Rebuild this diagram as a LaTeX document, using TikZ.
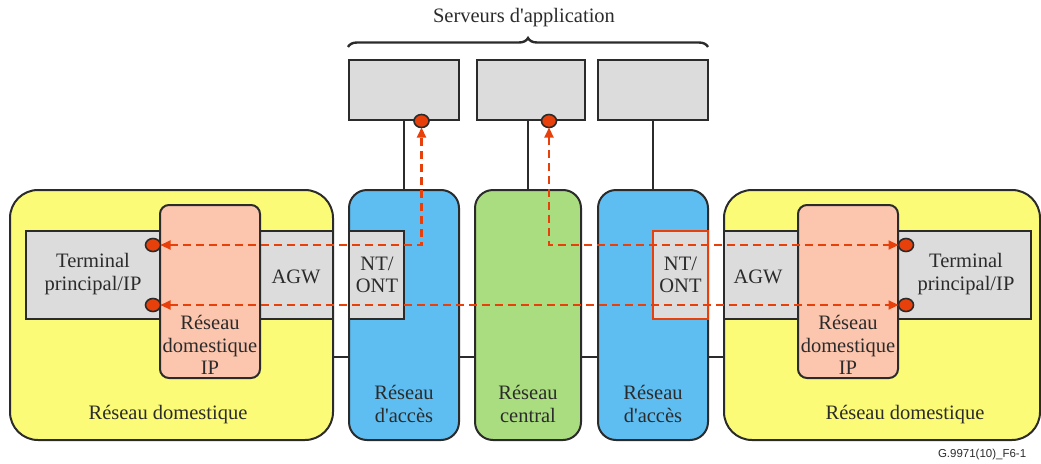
\documentclass[tikz,border=0pt]{standalone}
\usepackage{fontspec}
\setmainfont{Liberation Serif}
\newfontfamily\figsans{Liberation Sans}
\usetikzlibrary{arrows.meta,decorations.pathreplacing,shapes.geometric}
\definecolor{cyel}{HTML}{FBFB78}
\definecolor{cblue}{HTML}{5EBEF2}
\definecolor{cgreen}{HTML}{AADC80}
\definecolor{csal}{HTML}{FCC6AE}
\definecolor{cgray}{HTML}{DCDCDC}
\definecolor{cred}{HTML}{E8400A}
\definecolor{cdark}{HTML}{2B2B2B}
\newcommand{\aq}{\textquotesingle}
\tikzset{
  every node/.style={inner sep=0pt,outer sep=0pt},
  basebox/.style={draw=cdark,line width=2pt,rectangle},
  homebox/.style={basebox,fill=cyel,rounded corners=28pt},
  netbox/.style={basebox,rounded corners=18pt},
  graybox/.style={basebox,fill=cgray},
  salbox/.style={basebox,fill=csal,rounded corners=9pt},
  lbl/.style={font=\fontsize{20.5}{22.5}\selectfont,text=cdark,align=center},
  wire/.style={draw=cdark,line width=2pt},
  flowb/.style={draw=cred,line width=2.2pt,dash pattern=on 8pt off 5pt,
     arrows={{Triangle[length=10pt,width=9pt]}-{Triangle[length=10pt,width=9pt]}}},
  dot/.style={ellipse,draw=cdark,line width=1.6pt,fill=cred,minimum width=15pt,minimum height=13pt},
}
\begin{document}
\begin{tikzpicture}[x=1pt,y=-1pt]
\useasboundingbox (0,0) rectangle (1041,463);
% backbone line
\coordinate (bl) at (333,357);
\coordinate (br) at (724,357);
\draw[wire] (bl) -- (br);
% servers
\node[graybox,minimum width=110pt,minimum height=60pt] (s1) at (403.5,90) {};
\node[graybox,minimum width=108pt,minimum height=60pt] (s2) at (531,90) {};
\node[graybox,minimum width=110pt,minimum height=60pt] (s3) at (653,90) {};
% home networks
\node[homebox,minimum width=323pt,minimum height=250pt] (h1) at (171.5,315) {};
\node[homebox,minimum width=316pt,minimum height=250pt] (h2) at (882,315) {};
\node[graybox,minimum width=307pt,minimum height=88pt] (g1) at (179.5,275) {};
\node[graybox,minimum width=307pt,minimum height=88pt] (g2) at (877.5,275) {};
\node[salbox,minimum width=100pt,minimum height=173pt] (r1) at (210,291.5) {};
\node[salbox,minimum width=100pt,minimum height=173pt] (r2) at (848,291.5) {};
% access / core
\node[netbox,fill=cblue,minimum width=110pt,minimum height=250pt] (a1) at (404,315) {};
\node[netbox,fill=cgreen,minimum width=106pt,minimum height=250pt] (c) at (528,315) {};
\node[netbox,fill=cblue,minimum width=110pt,minimum height=250pt] (a2) at (653,315) {};
\node[graybox,minimum width=55pt,minimum height=88pt] (n1) at (376.5,275) {};
\node[graybox,draw=cred,minimum width=55pt,minimum height=88pt] (n2) at (680.5,275) {};
% vertical server links
\draw[wire] (s1.south -| a1.north) -- (a1.north);
\draw[wire] (s2.south -| c.north) -- (c.north);
\draw[wire] (s3.south) -- (a2.north);
% brace
\coordinate (bra) at (348,47);
\coordinate (brb) at (708,47);
\draw[draw=cdark,line width=2.4pt,decorate,decoration={brace,amplitude=9pt}] (bra) -- (brb);
\node[lbl] (srv) at (524,18) {Serveurs d\aq application};
% texts
\node[lbl] (t1) at (93,274) {Terminal\\principal/IP};
\node[lbl] (agw1) at (296,277) {AGW};
\node[lbl] (nt1) at (377,275) {NT/\\ONT};
\node[lbl] (rd1) at (210,345) {Réseau\\domestique\\IP};
\node[lbl] (hd1) at (168,415) {Réseau domestique};
\node[lbl] (ac1) at (404,404) {Réseau\\d\aq accès};
\node[lbl] (cc) at (528,404) {Réseau\\central};
\node[lbl] (ac2) at (653,404) {Réseau\\d\aq accès};
\node[lbl] (nt2) at (680.5,275) {NT/\\ONT};
\node[lbl] (agw2) at (758,277) {AGW};
\node[lbl] (t2) at (966,274) {Terminal\\principal/IP};
\node[lbl] (rd2) at (848,345) {Réseau\\domestique\\IP};
\node[lbl] (hd2) at (905,415) {Réseau domestique};
\node[font=\figsans\fontsize{11.5}{13}\selectfont,text=cdark,anchor=west] (fig) at (938,455) {G.9971(10)\_F6-1};
% dots
\node[dot] (d1) at (421.5,121) {};
\node[dot] (d2) at (549,121) {};
\node[dot] (l1) at (153,245) {};
\node[dot] (l2) at (153,305) {};
\node[dot] (q1) at (906,245) {};
\node[dot] (q2) at (906,305) {};
% flows
\coordinate (k1) at (421.5,245);
\coordinate (k2) at (549,245);
\draw[flowb] (l1.east) -- (k1) -- (d1.south);
\draw[flowb] (d2.south) -- (k2) -- (q1.west);
\draw[flowb] (l2.east) -- (q2.west);
\end{tikzpicture}
\end{document}
